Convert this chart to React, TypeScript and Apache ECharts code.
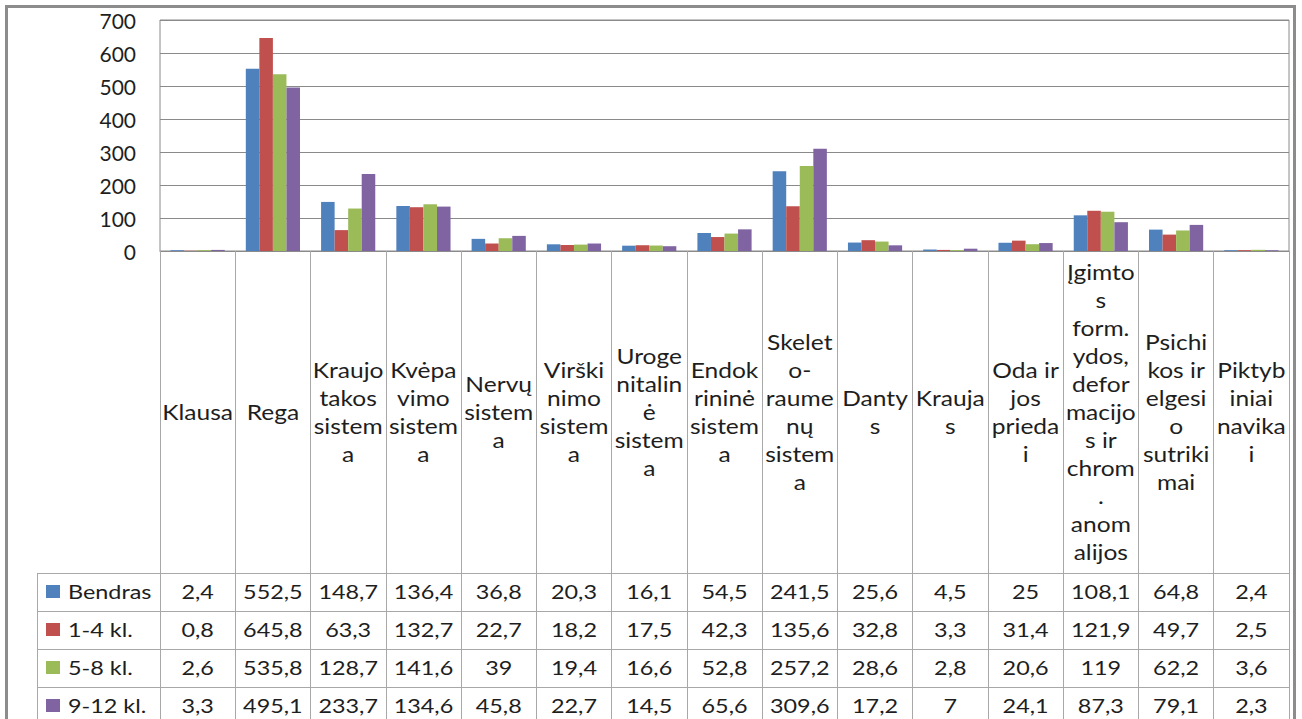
import React, { useEffect, useRef } from 'react';
import * as echarts from 'echarts';

const categories = [
  'Klausa', 'Rega', 'Kraujo takos sistema', 'Kvėpavimo sistema', 'Nervų sistema',
  'Virškinimo sistema', 'Urogenitalinė sistema', 'Endokrininė sistema',
  'Skeleto-raumenų sistema', 'Dantys', 'Kraujas', 'Oda ir jos priedai',
  'Įgimtos form. ydos, deformacijos ir chrom. anomalijos', 'Psichikos ir elgesio sutrikimai',
  'Piktybiniai navikai',
];

const headerLabels = [
  'Klausa',
  'Rega',
  'Kraujo\ntakos\nsistem\na',
  'Kvėpa\nvimo\nsistem\na',
  'Nervų\nsistem\na',
  'Virški\nnimo\nsistem\na',
  'Uroge\nnitalin\nė\nsistem\na',
  'Endok\nrininė\nsistem\na',
  'Skelet\no-\nraume\nnų\nsistem\na',
  'Danty\ns',
  'Krauja\ns',
  'Oda ir\njos\nprieda\ni',
  'Įgimto\ns\nform.\nydos,\ndefor\nmacijo\ns ir\nchrom\n.\nanom\nalijos',
  'Psichi\nkos ir\nelgesi\no\nsutriki\nmai',
  'Piktyb\niniai\nnavika\ni',
];

const seriesNames = ['Bendras', '1-4 kl.', '5-8 kl.', '9-12 kl.'];

const bendras = [2.4, 552.5, 148.7, 136.4, 36.8, 20.3, 16.1, 54.5, 241.5, 25.6, 4.5, 25, 108.1, 64.8, 2.4];
const kl1to4 = [0.8, 645.8, 63.3, 132.7, 22.7, 18.2, 17.5, 42.3, 135.6, 32.8, 3.3, 31.4, 121.9, 49.7, 2.5];
const kl5to8 = [2.6, 535.8, 128.7, 141.6, 39, 19.4, 16.6, 52.8, 257.2, 28.6, 2.8, 20.6, 119, 62.2, 3.6];
const kl9to12 = [3.3, 495.1, 233.7, 134.6, 45.8, 22.7, 14.5, 65.6, 309.6, 17.2, 7, 24.1, 87.3, 79.1, 2.3];

const yMin = 0;
const yMax = 700;
const yInterval = 100;

const colors = ['#4F81BD', '#C0504D', '#9BBB59', '#8064A2'];

const FONT = 'Lato';
const TEXT_COLOR = '#1e1e1e';
const SX = 1.17;

export default function App() {
  const ref = useRef<HTMLDivElement>(null);

  useEffect(() => {
    if (!ref.current) return;
    const chart = echarts.init(ref.current, null, { renderer: 'svg' });
    const seriesData = [bendras, kl1to4, kl5to8, kl9to12];

    chart.setOption({
      animation: false,
      grid: {
        left: 160, right: 13, top: 20, bottom: 468,
        show: true, borderColor: '#8a8a8a', borderWidth: 1, backgroundColor: 'transparent',
      },
      xAxis: {
        type: 'category',
        data: categories,
        axisLine: { lineStyle: { color: '#8a8a8a', width: 1 } },
        axisTick: { show: true, interval: 0, length: 470, lineStyle: { color: '#a8a8a8', width: 1 } },
        axisLabel: { show: false },
      },
      yAxis: {
        type: 'value',
        min: yMin, max: yMax, interval: yInterval,
        axisLine: { show: false },
        axisTick: { show: false },
        splitLine: { lineStyle: { color: '#8a8a8a', width: 1 } },
        axisLabel: { fontFamily: FONT, fontSize: 21, color: TEXT_COLOR, margin: 24 },
      },
      series: seriesData.map((d, i) => ({
        type: 'bar',
        name: seriesNames[i],
        data: d,
        barGap: '0%',
        barCategoryGap: '28%',
        itemStyle: { color: colors[i] },
      })),
    });

    const cx0 = chart.convertToPixel({ xAxisIndex: 0 }, 0) as number;
    const cx1 = chart.convertToPixel({ xAxisIndex: 0 }, 1) as number;
    const band = cx1 - cx0;
    const leftEdge = cx0 - band / 2;
    const rightEdge = (chart.convertToPixel({ xAxisIndex: 0 }, categories.length - 1) as number) + band / 2;
    const y0 = chart.convertToPixel({ yAxisIndex: 0 }, 0) as number;
    const tableTop = y0 + 322;
    const rowH = 38;
    const headerMid = (y0 + tableTop) / 2;
    const legendLeft = 37;

    const graphics: any[] = [];

    // outer frame
    graphics.push({
      type: 'rect',
      shape: { x: 6.5, y: 6.5, width: 1288, height: 760 },
      style: { fill: 'none', stroke: '#8c8c8c', lineWidth: 3 },
      silent: true,
    });

    // header category labels
    headerLabels.forEach((lab, i) => {
      const cx = chart.convertToPixel({ xAxisIndex: 0 }, i) as number;
      graphics.push({
        type: 'text',
        x: cx, y: headerMid,
        scaleX: SX,
        style: {
          text: lab, fontFamily: FONT, fontSize: 21, lineHeight: 28, fill: TEXT_COLOR,
          align: 'center', verticalAlign: 'middle',
        },
        silent: true,
      });
    });

    // table horizontal lines
    for (let k = 0; k < seriesNames.length; k++) {
      const y = Math.round(tableTop + k * rowH) + 0.5;
      graphics.push({
        type: 'line',
        shape: { x1: legendLeft, y1: y, x2: rightEdge, y2: y },
        style: { stroke: '#a8a8a8', lineWidth: 1 },
        silent: true,
      });
    }
    // legend column left border
    graphics.push({
      type: 'line',
      shape: { x1: legendLeft + 0.5, y1: tableTop, x2: legendLeft + 0.5, y2: 730 },
      style: { stroke: '#a8a8a8', lineWidth: 1 },
      silent: true,
    });

    // rows
    seriesData.forEach((d, r) => {
      const yc = tableTop + r * rowH + rowH / 2;
      graphics.push({
        type: 'rect',
        shape: { x: 46, y: yc - 7, width: 14, height: 13 },
        style: { fill: colors[r] },
        silent: true,
      });
      graphics.push({
        type: 'text',
        x: 68, y: yc,
        scaleX: SX,
        style: {
          text: seriesNames[r], fontFamily: FONT, fontSize: 20, fill: TEXT_COLOR,
          align: 'left', verticalAlign: 'middle',
        },
        silent: true,
      });
      d.forEach((v, i) => {
        const cx = chart.convertToPixel({ xAxisIndex: 0 }, i) as number;
        graphics.push({
          type: 'text',
          x: cx, y: yc,
          scaleX: SX,
          style: {
            text: String(v).replace('.', ','), fontFamily: FONT, fontSize: 20, fill: TEXT_COLOR,
            align: 'center', verticalAlign: 'middle',
          },
          silent: true,
        });
      });
    });

    void leftEdge;
    chart.setOption({ graphic: { elements: graphics } });

    return () => chart.dispose();
  }, []);

  return (
    <div
      ref={ref}
      style={{ position: 'absolute', left: 0, top: 0, width: 1302, height: 719, background: '#fff' }}
    />
  );
}
